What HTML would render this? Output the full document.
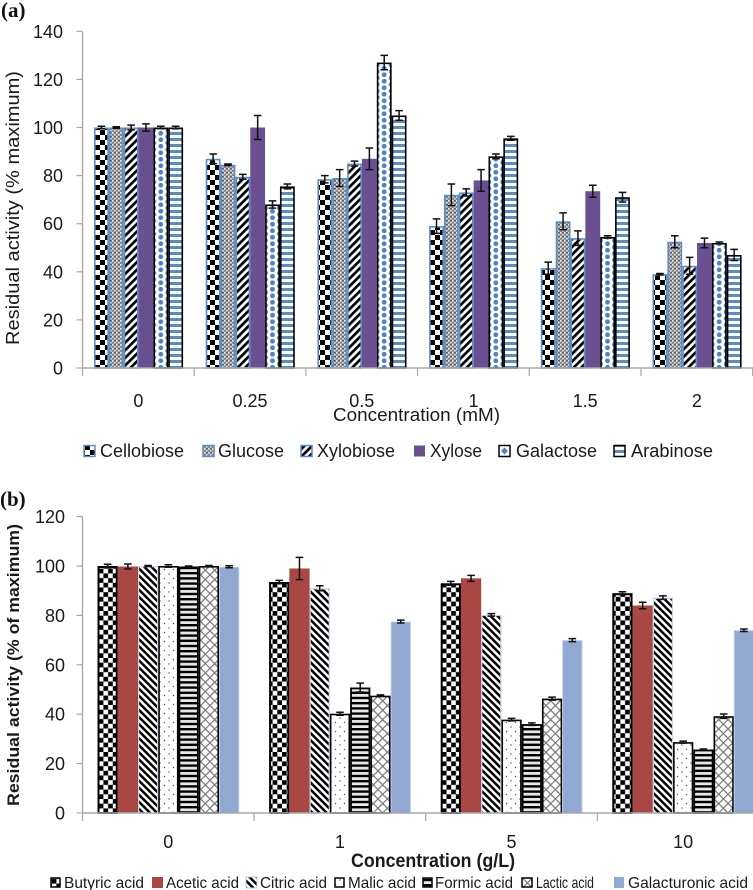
<!DOCTYPE html>
<html>
<head>
<meta charset="utf-8">
<title>Residual activity charts</title>
<style>
html,body{margin:0;padding:0;background:#fff;}
svg{display:block;}
text{font-family:"Liberation Sans",sans-serif;fill:#1a1a1a;}
</style>
</head>
<body>
<svg id="fig" width="753" height="890" viewBox="0 0 753 890" xmlns="http://www.w3.org/2000/svg">
<defs>
<pattern id="pCheckA" width="10" height="10" patternUnits="userSpaceOnUse"><rect width="10" height="10" fill="#fff"/><rect width="5" height="5" fill="#000"/><rect x="5" y="5" width="5" height="5" fill="#000"/></pattern>
<pattern id="pNoise" width="4" height="4" patternUnits="userSpaceOnUse"><rect width="4" height="4" fill="#8a8a8a"/><rect x="0" y="0" width="1.6" height="1.6" fill="#eee"/><rect x="2" y="2" width="1.6" height="1.6" fill="#ddd"/><rect x="2.4" y="0" width="1" height="1" fill="#333"/></pattern>
<pattern id="pFwd" width="5.4" height="5.4" patternUnits="userSpaceOnUse" patternTransform="rotate(45)"><rect width="5.4" height="5.4" fill="#fff"/><rect width="2.7" height="5.4" fill="#000"/></pattern>
<pattern id="pDots" x="153.82" y="0" width="13.96" height="13" patternUnits="userSpaceOnUse"><rect width="13.96" height="13" fill="#fff"/><circle cx="6.98" cy="3.25" r="2.4" fill="#4f81bd"/><circle cx="6.98" cy="9.75" r="2.4" fill="#4f81bd"/><circle cx="0" cy="0" r="2.4" fill="#4f81bd"/><circle cx="13.96" cy="0" r="2.4" fill="#4f81bd"/><circle cx="0" cy="6.5" r="2.4" fill="#4f81bd"/><circle cx="13.96" cy="6.5" r="2.4" fill="#4f81bd"/><circle cx="0" cy="13" r="2.4" fill="#4f81bd"/><circle cx="13.96" cy="13" r="2.4" fill="#4f81bd"/></pattern>
<pattern id="pStripe" width="6" height="6" patternUnits="userSpaceOnUse"><rect width="6" height="6" fill="#fff"/><rect width="6" height="3" fill="#5b8cc4"/></pattern>
<pattern id="pCheckB" width="9.4" height="9.4" patternUnits="userSpaceOnUse"><rect width="9.4" height="9.4" fill="#fff"/><rect width="4.7" height="4.7" fill="#000"/><rect x="4.7" y="4.7" width="4.7" height="4.7" fill="#000"/></pattern>
<pattern id="pBack" width="5" height="5" patternUnits="userSpaceOnUse" patternTransform="rotate(-45)"><rect width="5" height="5" fill="#fff"/><rect width="2.5" height="5" fill="#000"/></pattern>
<pattern id="pSparse" width="9" height="9" patternUnits="userSpaceOnUse"><rect width="9" height="9" fill="#fff"/><circle cx="2.5" cy="2.5" r="0.7" fill="#555"/><circle cx="7" cy="7" r="0.7" fill="#555"/></pattern>
<pattern id="pHoriz" width="5.2" height="5.2" patternUnits="userSpaceOnUse"><rect width="5.2" height="5.2" fill="#e8e8e8"/><rect width="5.2" height="2.4" fill="#000"/></pattern>
<pattern id="pCross" width="6.6" height="6.6" patternUnits="userSpaceOnUse" patternTransform="rotate(45)"><rect width="6.6" height="6.6" fill="#fff"/><rect width="1.2" height="6.6" fill="#777"/><rect width="6.6" height="1.2" fill="#777"/></pattern>
</defs>

<text x="1" y="17" style="font-family:'Liberation Serif',serif;font-weight:bold;font-size:21px;fill:#111">(a)</text>
<text x="0" y="506" style="font-family:'Liberation Serif',serif;font-weight:bold;font-size:21px;fill:#111">(b)</text>

<text transform="translate(19,208) rotate(-90)" text-anchor="middle" font-size="18" textLength="274" lengthAdjust="spacingAndGlyphs">Residual activity (% maximum)</text>
<text x="333" y="421" font-size="18" textLength="167" lengthAdjust="spacingAndGlyphs">Concentration (mM)</text>
<text transform="translate(19,665) rotate(-90)" text-anchor="middle" font-size="17" font-weight="bold" textLength="282" lengthAdjust="spacingAndGlyphs">Residual activity (% of maximum)</text>
<text x="351" y="867" font-size="19" font-weight="bold" textLength="164" lengthAdjust="spacingAndGlyphs">Concentration (g/L)</text>

<g font-size="18">
  <g><rect x="84" y="445.5" width="11" height="11" fill="url(#pCheckA)" stroke="#5b8cc4" stroke-width="1.5"/><text x="100" y="457" textLength="84" lengthAdjust="spacingAndGlyphs">Cellobiose</text></g>
  <g><rect x="203" y="445.5" width="11" height="11" fill="url(#pNoise)" stroke="#5b8cc4" stroke-width="1.5"/><text x="218" y="457" textLength="66" lengthAdjust="spacingAndGlyphs">Glucose</text></g>
  <g><rect x="301" y="445.5" width="11" height="11" fill="url(#pFwd)" stroke="#5b8cc4" stroke-width="1.5"/><text x="317" y="457" textLength="78" lengthAdjust="spacingAndGlyphs">Xylobiose</text></g>
  <g><rect x="414" y="445.5" width="11" height="11" fill="#6a5091"/><text x="430" y="457" textLength="52" lengthAdjust="spacingAndGlyphs">Xylose</text></g>
  <g><rect x="499" y="445.5" width="11" height="11" fill="#fff" stroke="#000" stroke-width="1.5"/><path d="M504.5 447.5 L508 451 L504.5 454.5 L501 451 Z" fill="#4f81bd"/><text x="516" y="457" textLength="81" lengthAdjust="spacingAndGlyphs">Galactose</text></g>
  <g><rect x="614" y="445.5" width="11" height="11" fill="url(#pStripe)" stroke="#000" stroke-width="1.5"/><text x="631" y="457" textLength="82" lengthAdjust="spacingAndGlyphs">Arabinose</text></g>
</g>

<g font-size="16">
  <g><rect x="51" y="878" width="9" height="9" fill="url(#pCheckB)" stroke="#000" stroke-width="1.5"/><text x="64" y="888" textLength="80" lengthAdjust="spacingAndGlyphs">Butyric acid</text></g>
  <g><rect x="152" y="877" width="11" height="11" fill="#a94745"/><text x="166" y="888" textLength="73" lengthAdjust="spacingAndGlyphs">Acetic acid</text></g>
  <g><rect x="246" y="877" width="11" height="11" fill="url(#pBack)" stroke="#b9cbe4" stroke-width="1"/><text x="260" y="888" textLength="67" lengthAdjust="spacingAndGlyphs">Citric acid</text></g>
  <g><rect x="335" y="878" width="9" height="9" fill="url(#pSparse)" stroke="#000" stroke-width="1.5"/><text x="348" y="888" textLength="68" lengthAdjust="spacingAndGlyphs">Malic acid</text></g>
  <g><rect x="423" y="878" width="9" height="9" fill="url(#pHoriz)" stroke="#000" stroke-width="1.5"/><text x="435" y="888" textLength="78" lengthAdjust="spacingAndGlyphs">Formic acid</text></g>
  <g><rect x="522" y="878" width="10" height="9" fill="url(#pCross)" stroke="#000" stroke-width="1.5"/><text x="536" y="888" textLength="58" lengthAdjust="spacingAndGlyphs">Lactic acid</text></g>
  <g><rect x="614" y="877" width="10" height="11" fill="#90a8d2"/><text x="628" y="888" textLength="120" lengthAdjust="spacingAndGlyphs">Galacturonic acid</text></g>
</g>
</svg>

<script>
// Chart (a) data
const categoriesA = ['0', '0.25', '0.5', '1', '1.5', '2'];
const yTicksA = [0, 20, 40, 60, 80, 100, 120, 140];
const seriesNamesA = ['cellobiose', 'glucose', 'xylobiose', 'xylose', 'galactose', 'arabinose'];
const cellobiose = [100, 87, 78.5, 59, 41.5, 39];
const glucose = [100, 84.5, 79, 72, 61, 52.5];
const xylobiose = [100, 79.5, 85, 73, 54, 42.5];
const xylose = [100, 100, 87, 78, 73.5, 52];
const galactose = [100, 68, 127, 88, 54.5, 52];
const arabinose = [100, 75.5, 105, 95.5, 71, 47];
const cellobioseErr = [0.5, 2, 1.5, 3, 2.5, 0.3];
const glucoseErr = [0.3, 0.3, 3.5, 4.5, 3.5, 2.5];
const xylobioseErr = [1, 1, 1, 1.5, 3, 3.5];
const xyloseErr = [1.5, 5, 4.5, 4.5, 2.5, 2];
const galactoseErr = [0.5, 1.5, 3, 1, 0.5, 0.4];
const arabinoseErr = [0.5, 1, 2, 0.8, 2, 2.3];

// Chart (b) data
const categoriesB = ['0', '1', '5', '10'];
const yTicksB = [0, 20, 40, 60, 80, 100, 120];
const seriesNamesB = ['butyric-acid', 'acetic-acid', 'citric-acid', 'malic-acid', 'formic-acid', 'lactic-acid', 'galacturonic-acid'];
const butyric = [100, 93.5, 93, 89];
const acetic = [99.8, 99, 95, 84];
const citric = [100, 91, 80.2, 87.2];
const malic = [100, 40.2, 37.8, 28.7];
const formic = [99.8, 50.8, 36, 25.7];
const lactic = [100, 47.5, 46.3, 39.2];
const galacturonic = [99.7, 77.5, 70, 74];
const butyricErr = [0.7, 0.7, 0.8, 0.6];
const aceticErr = [1, 4.5, 1.2, 1.3];
const citricErr = [0.2, 1, 0.5, 0.7];
const malicErr = [0.5, 0.6, 0.5, 0.4];
const formicErr = [0.2, 1.8, 0.5, 0.2];
const lacticErr = [0.2, 0.3, 0.6, 0.9];
const galacturonicErr = [0.4, 0.6, 0.6, 0.5];

const NS = 'http://www.w3.org/2000/svg';
const fig = document.getElementById('fig');

function make(tag, attrs, name, parent) {
  const el = document.createElementNS(NS, tag);
  for (const k in attrs) el.setAttribute(k, attrs[k]);
  
  
  (parent || fig).appendChild(el);
  return el;
}

function drawChart(cfg) {
  const yScale = v => cfg.y0 - v * cfg.pxPerUnit;
  const catLeft = i => cfg.x0 + i * cfg.catW;
  const barX = (i, s) => catLeft(i) + cfg.pad + s * cfg.barW;
  const root = make('g', {}, cfg.id + '-plot');

  const bars = make('g', {}, cfg.id + '-bars', root);
  const errs = make('g', {}, cfg.id + '-error-bars', root);

  cfg.values.forEach((vals, s) => {
    const st = cfg.styles[s];
    const serieName = cfg.names[s];
    vals.forEach((v, i) => {
      const sw = st.stroke === 'none' ? 0 : st.sw;
      const top = yScale(v);
      make('rect', {
        x: barX(i, s) + sw / 2,
        y: top + sw / 2,
        width: cfg.barW - sw,
        height: cfg.y0 - top - sw / 2,
        fill: st.fill,
        stroke: st.stroke,
        'stroke-width': sw
      }, 'bar-' + serieName + '-' + cfg.cats[i].replace('.', '-'), bars);
      const cx = barX(i, s) + cfg.barW / 2;
      const e = cfg.errors[s][i];
      const d = 'M' + (cx - 3.8) + ' ' + yScale(v + e) + 'H' + (cx + 3.8) +
                'M' + cx + ' ' + yScale(v + e) + 'V' + yScale(v - e) +
                'M' + (cx - 3.8) + ' ' + yScale(v - e) + 'H' + (cx + 3.8);
      make('path', { d: d, stroke: '#111', 'stroke-width': 1.5, fill: 'none' },
           'error-bar-' + serieName + '-' + cfg.cats[i].replace('.', '-'), errs);
    });
  });

  const axes = make('g', {}, cfg.id + '-axes', root);
  make('line', { x1: cfg.x0, x2: cfg.x0, y1: yScale(cfg.yTicks[cfg.yTicks.length - 1]), y2: cfg.y0, stroke: '#a8a8a8', 'stroke-width': 1.4 }, cfg.id + '-y-axis', axes);
  make('line', { x1: cfg.x0, x2: 753, y1: cfg.y0, y2: cfg.y0, stroke: '#a8a8a8', 'stroke-width': 1.4 }, cfg.id + '-x-axis', axes);

  cfg.yTicks.forEach(t => {
    make('line', { x1: cfg.x0 - 6, x2: cfg.x0, y1: yScale(t), y2: yScale(t), stroke: '#a8a8a8', 'stroke-width': 1.2 }, cfg.id + '-y-tick-' + t, axes);
    const lab = make('text', { x: cfg.tickRight, y: yScale(t) + 6.5, 'text-anchor': 'end', 'font-size': cfg.tickFont }, cfg.id + '-y-tick-label-' + t, axes);
    lab.textContent = t;
  });

  for (let i = 0; i <= cfg.cats.length; i++) {
    make('line', { x1: catLeft(i), x2: catLeft(i), y1: cfg.y0, y2: cfg.y0 + 8, stroke: '#a8a8a8', 'stroke-width': 1.2 }, cfg.id + '-x-tick-' + i, axes);
  }
  cfg.cats.forEach((c, i) => {
    const lab = make('text', { x: catLeft(i) + cfg.catW / 2, y: cfg.catLabelY, 'text-anchor': 'middle', 'font-size': cfg.tickFont }, cfg.id + '-x-tick-label-' + c.replace('.', '-'), axes);
    lab.textContent = c;
  });
}

drawChart({
  id: 'chart-a', x0: 82.5, y0: 368, pxPerUnit: 2.405, catW: 111.7, pad: 11.5, barW: 14.85,
  tickRight: 63, tickFont: 18, catLabelY: 407,
  cats: categoriesA, yTicks: yTicksA, names: seriesNamesA,
  values: [cellobiose, glucose, xylobiose, xylose, galactose, arabinose],
  errors: [cellobioseErr, glucoseErr, xylobioseErr, xyloseErr, galactoseErr, arabinoseErr],
  styles: [
    { fill: 'url(#pCheckA)', stroke: '#5b8cc4', sw: 1.6 },
    { fill: 'url(#pNoise)', stroke: '#5b8cc4', sw: 1.6 },
    { fill: 'url(#pFwd)', stroke: '#5b8cc4', sw: 1.6 },
    { fill: '#6a5091', stroke: 'none', sw: 0 },
    { fill: 'url(#pDots)', stroke: '#000', sw: 1.6 },
    { fill: 'url(#pStripe)', stroke: '#000', sw: 1.6 }
  ]
});

drawChart({
  id: 'chart-b', x0: 82.5, y0: 813, pxPerUnit: 2.47, catW: 171.6, pad: 15, barW: 20.25,
  tickRight: 65, tickFont: 18, catLabelY: 848,
  cats: categoriesB, yTicks: yTicksB, names: seriesNamesB,
  values: [butyric, acetic, citric, malic, formic, lactic, galacturonic],
  errors: [butyricErr, aceticErr, citricErr, malicErr, formicErr, lacticErr, galacturonicErr],
  styles: [
    { fill: 'url(#pCheckB)', stroke: '#000', sw: 2 },
    { fill: '#a94745', stroke: 'none', sw: 0 },
    { fill: 'url(#pBack)', stroke: '#c4d3e8', sw: 1.2 },
    { fill: 'url(#pSparse)', stroke: '#000', sw: 1.6 },
    { fill: 'url(#pHoriz)', stroke: '#000', sw: 1.8 },
    { fill: 'url(#pCross)', stroke: '#000', sw: 1.6 },
    { fill: '#90a8d2', stroke: '#b9cbe4', sw: 1 }
  ]
});
</script>
</body>
</html>
